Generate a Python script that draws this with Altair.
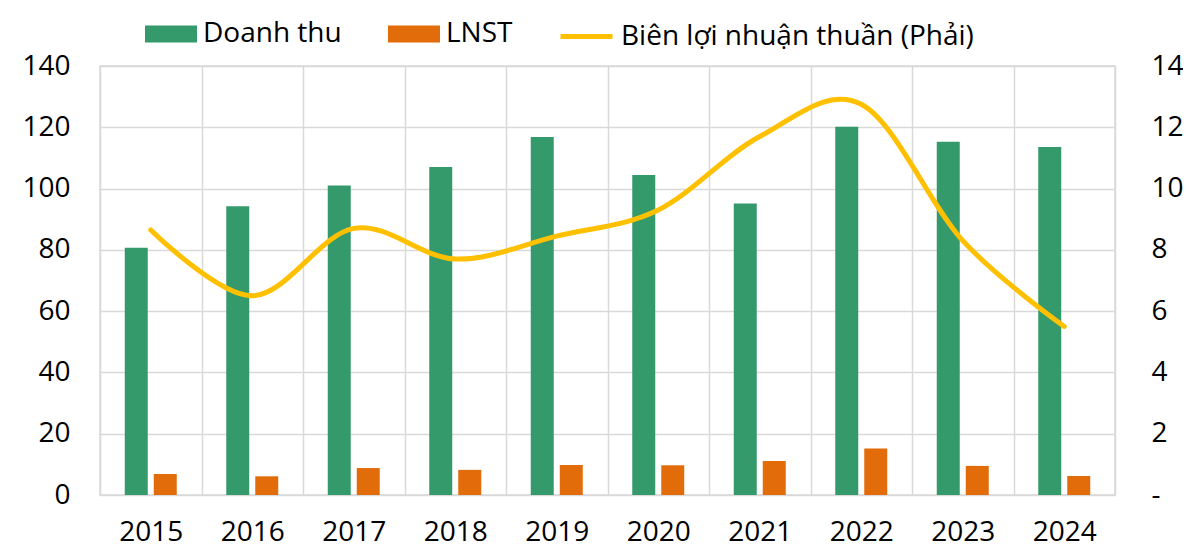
import altair as alt
import pandas as pd

years = ["2015", "2016", "2017", "2018", "2019", "2020", "2021", "2022", "2023", "2024"]
doanh_thu = [80.7, 94.2, 101.0, 107.0, 116.8, 104.4, 95.1, 120.2, 115.3, 113.6]
lnst = [6.85, 6.1, 8.8, 8.2, 9.8, 9.7, 11.1, 15.2, 9.5, 6.2]
bien_ln = [8.65, 6.5, 8.7, 7.7, 8.45, 9.3, 11.7, 12.75, 8.3, 5.5]

s_dt = "Doanh thu"
s_ln = "LNST"
s_bien = "Biên lợi nhuận thuần (Phải)"

FONT = "Open Sans"
FS = 28
GRID = "#D9D9D9"

bars_df = pd.DataFrame(
    {"year": years * 2, "series": [s_dt] * len(years) + [s_ln] * len(years), "value": doanh_thu + lnst}
)
line_df = pd.DataFrame({"year": years, "series": [s_bien] * len(years), "value": bien_ln})

x_enc = alt.X(
    "year:N",
    sort=years,
    scale=alt.Scale(paddingInner=0, paddingOuter=0),
    axis=alt.Axis(
        title=None,
        tickBand="extent",
        grid=True,
        gridColor=GRID,
        gridWidth=1.5,
        ticks=False,
        domain=False,
        labelAngle=0,
        labelFont=FONT,
        labelFontSize=FS,
        labelColor="#000000",
        labelPadding=23,
    ),
)

bars = alt.Chart(bars_df).mark_bar(width=23).encode(
    x=x_enc,
    xOffset=alt.XOffset("series:N", sort=[s_dt, s_ln], scale=alt.Scale(paddingInner=0, paddingOuter=0.75)),
    y=alt.Y(
        "value:Q",
        scale=alt.Scale(domain=[0, 140], nice=False),
        axis=alt.Axis(
            title=None,
            values=[0, 20, 40, 60, 80, 100, 120, 140],
            grid=True,
            gridColor=GRID,
            gridWidth=1.5,
            ticks=False,
            domain=False,
            labelFont=FONT,
            labelFontSize=FS,
            labelColor="#000000",
            labelPadding=30,
        ),
    ),
    color=alt.Color(
        "series:N",
        sort=[s_dt, s_ln],
        scale=alt.Scale(domain=[s_dt, s_ln], range=["#349A6B", "#E36C0A"]),
        legend=alt.Legend(
            title=None,
            orient="none",
            legendX=45,
            legendY=-58,
            direction="horizontal",
            symbolType="M-1,-0.327H1V0.327H-1Z",
            symbolSize=2704,
            symbolStrokeWidth=0,
            symbolOpacity=1,
            labelFont=FONT,
            labelFontSize=FS,
            labelColor="#000000",
            labelOffset=6,
            labelLimit=0,
            columnPadding=46,
        ),
    ),
)

line = alt.Chart(line_df).mark_line(strokeWidth=5, interpolate="cardinal", strokeCap="round").encode(
    x=x_enc,
    y=alt.Y(
        "value:Q",
        scale=alt.Scale(domain=[0, 14], nice=False),
        axis=alt.Axis(
            title=None,
            orient="right",
            values=[0, 2, 4, 6, 8, 10, 12, 14],
            grid=False,
            ticks=False,
            domain=False,
            labelExpr="datum.value == 0 ? '-' : datum.label",
            labelFont=FONT,
            labelFontSize=FS,
            labelColor="#000000",
            labelPadding=36,
        ),
    ),
    stroke=alt.Stroke(
        "series:N",
        scale=alt.Scale(domain=[s_bien], range=["#FFC000"]),
        legend=alt.Legend(
            title=None,
            orient="none",
            legendX=458,
            legendY=-58,
            direction="horizontal",
            symbolType="stroke",
            symbolSize=2704,
            symbolStrokeWidth=5,
            labelFont=FONT,
            labelFontSize=FS,
            labelColor="#000000",
            labelOffset=6,
            labelLimit=0,
        ),
    ),
)

chart = (
    alt.layer(bars, line)
    .resolve_scale(y="independent", color="independent")
    .properties(
        width=1015,
        height=429,
        padding={"left": 92, "top": 58, "right": 68, "bottom": 52},
        autosize=alt.AutoSizeParams(type="none"),
        background="#FFFFFF",
    )
    .configure_view(stroke=GRID, strokeWidth=1.5)
)

chart.save("out.html", embed_options={"renderer": "svg", "actions": False})
